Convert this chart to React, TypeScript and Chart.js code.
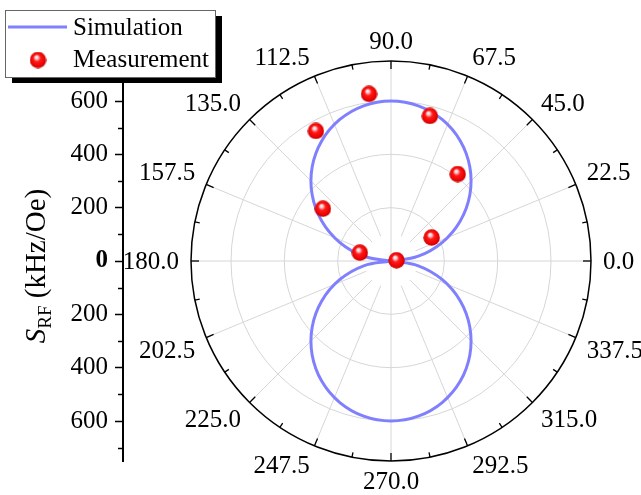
import React, { useEffect, useRef } from 'react';
import { Chart, registerables } from 'chart.js';

Chart.register(...registerables);

// ---- data (angles in degrees, radius in kHz/Oe) ----
const SIM_UPPER_ANGLES = [0, 10, 20, 30, 40, 50, 60, 70, 80, 90, 100, 110, 120, 130, 140, 150, 160, 170, 180];
const SIM_UPPER_R = [0, 104, 205, 300, 386, 460, 520, 564, 591, 600, 591, 564, 520, 460, 386, 300, 205, 104, 0];
const SIM_LOWER_ANGLES = [180, 190, 200, 210, 220, 230, 240, 250, 260, 270, 280, 290, 300, 310, 320, 330, 340, 350, 360];
const SIM_LOWER_R = [0, 104, 205, 300, 386, 460, 520, 564, 591, 600, 591, 564, 520, 460, 386, 300, 205, 104, 0];
const MEAS_ANGLES = [7.5, 30, 52.5, 75, 97.5, 120, 142.5, 165];
const MEAS_R = [21, 176, 411, 563, 632, 563, 322, 121];

const ANGLE_TICKS = [0, 22.5, 45, 67.5, 90, 112.5, 135, 157.5, 180, 202.5, 225, 247.5, 270, 292.5, 315, 337.5];
const RADIAL_GRID = [200, 400, 600];
const R_MAX = 750;
const Y_TICKS = [-600, -400, -200, 0, 200, 400, 600];
const Y_MINOR = [-700, -500, -300, -100, 100, 300, 500, 700];
const X_MIN = -1005;
const X_MAX = 900;

const SERIF = "'Liberation Serif', 'Times New Roman', serif";
const SIM_COLOR = '#8080ff';

const toXY = (a: number, r: number) => ({
  x: r * Math.cos((a * Math.PI) / 180),
  y: r * Math.sin((a * Math.PI) / 180),
});

function makeBall(d: number): HTMLCanvasElement {
  const c = document.createElement('canvas');
  c.width = d;
  c.height = d;
  const g = c.getContext('2d')!;
  const r = d / 2;
  const grad = g.createRadialGradient(r * 0.8, r * 0.62, 0, r, r, r);
  grad.addColorStop(0, '#ffffff');
  grad.addColorStop(0.2, '#ffc8c8');
  grad.addColorStop(0.42, '#ff1a1a');
  grad.addColorStop(0.85, '#e80000');
  grad.addColorStop(1, '#b00000');
  g.fillStyle = grad;
  g.beginPath();
  g.arc(r, r, r - 0.3, 0, Math.PI * 2);
  g.fill();
  return c;
}

export default function App() {
  const ref = useRef<HTMLCanvasElement | null>(null);

  useEffect(() => {
    if (!ref.current) return;
    const ball = makeBall(17);

    const polarPlugin = {
      id: 'polarGrid',
      beforeDatasetsDraw(chart: any) {
        const { ctx } = chart;
        const xs = chart.scales.x;
        const ys = chart.scales.y;
        const cx = xs.getPixelForValue(0);
        const cy = ys.getPixelForValue(0);
        const k = (r: number) => cy - ys.getPixelForValue(r);
        const R = k(R_MAX);
        ctx.save();
        // grid circles
        ctx.strokeStyle = '#d6d6d6';
        ctx.lineWidth = 1;
        RADIAL_GRID.forEach((r) => {
          ctx.beginPath();
          ctx.arc(cx, cy, k(r), 0, Math.PI * 2);
          ctx.stroke();
        });
        // spokes
        ANGLE_TICKS.forEach((a) => {
          const t = (a * Math.PI) / 180;
          const r0 = a % 90 === 0 ? 0 : k(100);
          ctx.beginPath();
          ctx.moveTo(cx + r0 * Math.cos(t), cy - r0 * Math.sin(t));
          ctx.lineTo(cx + R * Math.cos(t), cy - R * Math.sin(t));
          ctx.stroke();
        });
        // outer circle
        ctx.strokeStyle = '#000';
        ctx.lineWidth = 1.5;
        ctx.beginPath();
        ctx.arc(cx, cy, R, 0, Math.PI * 2);
        ctx.stroke();
        // ticks
        ctx.lineWidth = 1.3;
        ANGLE_TICKS.forEach((a) => {
          [[a, 8], [a + 11.25, 5]].forEach(([ang, len]) => {
            const t = (ang * Math.PI) / 180;
            ctx.beginPath();
            ctx.moveTo(cx + (R - len) * Math.cos(t), cy - (R - len) * Math.sin(t));
            ctx.lineTo(cx + R * Math.cos(t), cy - R * Math.sin(t));
            ctx.stroke();
          });
        });
        // angle labels
        ctx.fillStyle = '#000';
        ctx.font = `25px ${SERIF}`;
        ctx.textBaseline = 'alphabetic';
        const LR = R + 12;
        ANGLE_TICKS.forEach((a) => {
          const t = (a * Math.PI) / 180;
          const px = cx + LR * Math.cos(t);
          const py = cy - LR * Math.sin(t);
          let align: CanvasTextAlign = 'left';
          let dy = 0;
          if (a === 0) { align = 'left'; dy = 8; }
          else if (a < 90) { align = 'left'; dy = 0; }
          else if (a === 90) { align = 'center'; dy = 0; }
          else if (a < 180) { align = 'right'; dy = 0; }
          else if (a === 180) { align = 'right'; dy = 8; }
          else if (a < 270) { align = 'right'; dy = 16; }
          else if (a === 270) { align = 'center'; dy = 16; }
          else { align = 'left'; dy = 16; }
          ctx.textAlign = align;
          ctx.fillText(a.toFixed(1), px, py + dy);
        });
        ctx.restore();
      },
      afterDraw(chart: any) {
        const { ctx } = chart;
        const ys = chart.scales.y;
        const left = chart.chartArea.left;
        ctx.save();
        // minor y ticks
        ctx.strokeStyle = '#000';
        ctx.lineWidth = 1.5;
        Y_MINOR.forEach((v) => {
          const py = Math.round(ys.getPixelForValue(v)) + 0.5;
          ctx.beginPath();
          ctx.moveTo(left - 5, py);
          ctx.lineTo(left, py);
          ctx.stroke();
        });
        // y title: S_RF (kHz/Oe)
        ctx.translate(45, 266);
        ctx.rotate(-Math.PI / 2);
        ctx.fillStyle = '#000';
        ctx.textBaseline = 'alphabetic';
        ctx.textAlign = 'left';
        const fMain = `29px ${SERIF}`;
        const fIt = `italic 29px ${SERIF}`;
        const fSub = `19px ${SERIF}`;
        ctx.font = fIt;
        const wS = ctx.measureText('S').width;
        ctx.font = fSub;
        const wSub = ctx.measureText('RF').width;
        ctx.font = fMain;
        const wRest = ctx.measureText(' (kHz/Oe)').width;
        let xx = -(wS + wSub + wRest) / 2;
        ctx.font = fIt;
        ctx.fillText('S', xx, 0);
        xx += wS;
        ctx.font = fSub;
        ctx.fillText('RF', xx, 6);
        xx += wSub;
        ctx.font = fMain;
        ctx.fillText(' (kHz/Oe)', xx, 0);
        ctx.restore();

        // legend
        ctx.save();
        ctx.fillStyle = '#000';
        ctx.fillRect(12, 16, 210, 67);
        ctx.fillStyle = '#fff';
        ctx.fillRect(5, 10, 210, 67);
        ctx.strokeStyle = '#666';
        ctx.lineWidth = 1;
        ctx.strokeRect(5.5, 10.5, 210, 67);
        ctx.strokeStyle = SIM_COLOR;
        ctx.lineWidth = 3;
        ctx.beginPath();
        ctx.moveTo(8, 27);
        ctx.lineTo(67, 27);
        ctx.stroke();
        ctx.drawImage(ball, 38 - 8.5, 60 - 8.5);
        ctx.fillStyle = '#000';
        ctx.font = `25px ${SERIF}`;
        ctx.textAlign = 'left';
        ctx.textBaseline = 'middle';
        ctx.fillText('Simulation', 73, 28);
        ctx.fillText('Measurement', 73, 60);
        ctx.restore();
      },
    };

    const chart = new Chart(ref.current, {
      type: 'scatter',
      data: {
        datasets: [
          {
            label: 'Measurement',
            data: MEAS_ANGLES.map((a, i) => toXY(a, MEAS_R[i])),
            pointStyle: ball as any,
            pointRadius: 8,
            order: 0,
          },
          {
            label: 'Simulation',
            data: SIM_UPPER_ANGLES.map((a, i) => toXY(a, SIM_UPPER_R[i])),
            showLine: true,
            borderColor: SIM_COLOR,
            borderWidth: 3,
            pointRadius: 0,
            tension: 0.4,
            order: 1,
          },
          {
            label: 'Simulation (lower)',
            data: SIM_LOWER_ANGLES.map((a, i) => toXY(a, SIM_LOWER_R[i])),
            showLine: true,
            borderColor: SIM_COLOR,
            borderWidth: 3,
            pointRadius: 0,
            tension: 0.4,
            order: 1,
          },
        ],
      },
      options: {
        animation: false,
        responsive: true,
        maintainAspectRatio: false,
        layout: { padding: { left: 0, top: 61, right: 10, bottom: 34 } },
        plugins: { legend: { display: false }, tooltip: { enabled: false } },
        scales: {
          x: { type: 'linear', display: false, min: X_MIN, max: X_MAX },
          y: {
            type: 'linear',
            min: -R_MAX,
            max: R_MAX,
            afterFit: (s: any) => { s.width = 123; },
            afterBuildTicks: (s: any) => { s.ticks = Y_TICKS.map((v) => ({ value: v })); },
            border: { display: true, color: '#000', width: 2 },
            grid: {
              drawOnChartArea: false,
              drawTicks: true,
              tickLength: 8,
              tickColor: '#000',
              tickWidth: 1.5,
              color: '#000',
            },
            ticks: {
              padding: 7,
              color: '#000',
              font: (c: any) => ({
                family: SERIF,
                size: 25,
                weight: c.tick && c.tick.value === 0 ? 'bold' : 'normal',
              }),
              callback: (v: any) => String(Math.abs(Number(v))),
            },
          },
        },
      },
      plugins: [polarPlugin],
    });
    return () => chart.destroy();
  }, []);

  return (
    <div style={{ position: 'fixed', left: 0, top: 0, width: 641, height: 495, background: '#fff' }}>
      <canvas ref={ref} />
    </div>
  );
}
